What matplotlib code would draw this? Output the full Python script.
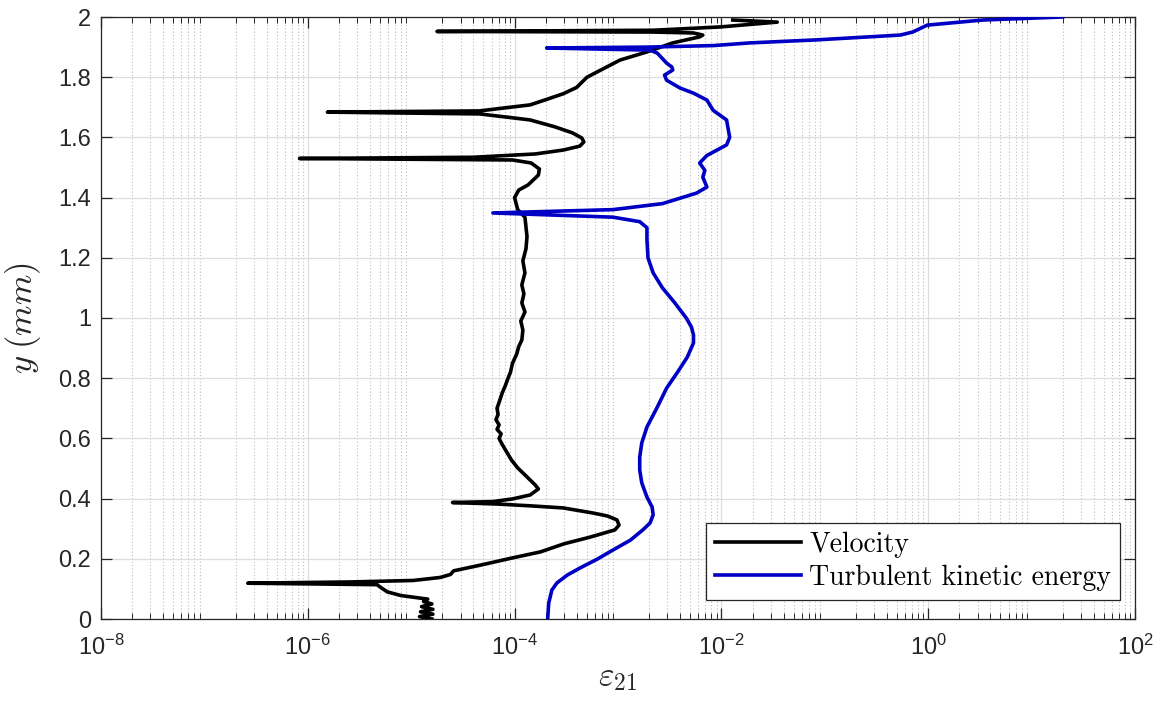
import numpy as np
import matplotlib
matplotlib.use("Agg")
import matplotlib.pyplot as plt
from matplotlib.ticker import LogLocator, NullFormatter

plt.rcParams['font.family'] = ['Liberation Sans', 'DejaVu Sans']
plt.rcParams['mathtext.fontset'] = 'custom'
plt.rcParams['mathtext.rm'] = 'Liberation Sans'
plt.rcParams['mathtext.it'] = 'Liberation Sans:italic'

# Velocity error profile: log10(eps_21) against wall distance y (mm)
vel_log10_eps = [
    -4.80, -4.92, -4.79, -4.91, -4.79, -4.90, -4.80, -4.88, -4.84, -5.10,
    -5.23, -5.30, -5.33, -6.58, -5.60, -4.98, -4.72, -4.62, -4.59, -4.33,
    -4.02, -3.75, -3.52, -3.27, -3.03, -2.99, -3.01, -3.10, -3.24, -3.53,
    -3.85, -4.17, -4.60, -4.21, -4.02, -3.85, -3.77, -3.80, -3.88, -3.97,
    -4.03, -4.07, -4.12, -4.15, -4.13, -4.17, -4.15, -4.18, -4.16, -4.17,
    -4.14, -4.12, -4.09, -4.07, -4.04, -4.02, -3.98, -3.96, -3.93, -3.92,
    -3.94, -3.90, -3.93, -3.91, -3.93, -3.90, -3.92, -3.89, -3.88, -3.90,
    -3.97, -4.00, -3.96, -3.87, -3.77, -3.76, -3.84, -4.02, -6.08, -4.40,
    -3.80, -3.53, -3.37, -3.33, -3.35, -3.44, -3.61, -3.85, -4.09, -4.34,
    -5.81, -4.34, -3.85, -3.71, -3.53, -3.40, -3.30, -2.98, -2.72, -2.47,
    -2.21, -2.18, -2.27, -2.66, -4.75, -2.66, -2.01, -1.46, -1.89,
]
vel_y = [
    0.000, 0.008, 0.016, 0.024, 0.032, 0.041, 0.050, 0.058, 0.066, 0.078,
    0.090, 0.106, 0.114, 0.119, 0.123, 0.128, 0.138, 0.148, 0.160, 0.179,
    0.203, 0.223, 0.250, 0.272, 0.296, 0.312, 0.329, 0.342, 0.352, 0.369,
    0.376, 0.382, 0.387, 0.390, 0.399, 0.412, 0.432, 0.445, 0.472, 0.502,
    0.528, 0.551, 0.580, 0.600, 0.615, 0.630, 0.645, 0.662, 0.680, 0.700,
    0.730, 0.751, 0.775, 0.794, 0.820, 0.850, 0.880, 0.905, 0.927, 0.960,
    0.990, 1.020, 1.050, 1.080, 1.110, 1.150, 1.190, 1.230, 1.270, 1.335,
    1.360, 1.400, 1.425, 1.442, 1.475, 1.495, 1.515, 1.525, 1.530, 1.534,
    1.545, 1.558, 1.571, 1.585, 1.598, 1.615, 1.635, 1.658, 1.668, 1.678,
    1.684, 1.688, 1.708, 1.724, 1.745, 1.766, 1.800, 1.857, 1.884, 1.914,
    1.934, 1.940, 1.947, 1.950, 1.952, 1.956, 1.967, 1.983, 1.990,
]

# Turbulent kinetic energy error profile
tke_log10_eps = [
    -3.68, -3.67, -3.64, -3.59, -3.49, -3.37, -3.20, -3.05, -2.88, -2.76,
    -2.69, -2.66, -2.67, -2.72, -2.77, -2.79, -2.79, -2.77, -2.72, -2.62,
    -2.53, -2.43, -2.33, -2.27, -2.27, -2.29, -2.34, -2.45, -2.57, -2.66,
    -2.71, -2.72, -2.72, -2.79, -3.05, -4.21, -3.05, -2.57, -2.24, -2.14,
    -2.18, -2.16, -2.21, -2.14, -1.95, -1.92, -1.95, -2.08, -2.14, -2.27,
    -2.40, -2.53, -2.55, -2.47, -2.48, -2.53, -2.62, -2.69, -3.69, -2.72,
    -2.08, -1.72, -1.08, -0.27, -0.15, -0.01, 0.53, 1.30,
]
tke_y = [
    0.000, 0.053, 0.096, 0.120, 0.146, 0.169, 0.199, 0.229, 0.262, 0.296,
    0.319, 0.346, 0.372, 0.405, 0.452, 0.495, 0.538, 0.585, 0.638, 0.704,
    0.767, 0.817, 0.870, 0.917, 0.944, 0.970, 1.000, 1.050, 1.100, 1.150,
    1.200, 1.260, 1.300, 1.320, 1.335, 1.349, 1.360, 1.380, 1.415, 1.435,
    1.468, 1.490, 1.515, 1.540, 1.575, 1.600, 1.658, 1.690, 1.724, 1.747,
    1.764, 1.790, 1.807, 1.824, 1.834, 1.847, 1.880, 1.890, 1.897, 1.900,
    1.905, 1.914, 1.924, 1.940, 1.950, 1.973, 1.990, 2.000,
]

x_tick_exponents = [-8, -6, -4, -2, 0, 2]
x_tick_labels = [r'$\mathregular{10^{%d}}$' % e for e in x_tick_exponents]
y_ticks = [0, 0.2, 0.4, 0.6, 0.8, 1, 1.2, 1.4, 1.6, 1.8, 2]
y_tick_labels = ['0', '0.2', '0.4', '0.6', '0.8', '1', '1.2', '1.4', '1.6', '1.8', '2']

series_labels = ['Velocity', 'Turbulent kinetic energy']
series_colors = ['#000000', '#0000c4']

axis_color = '#262626'

fig = plt.figure(figsize=(11.65, 7.09), dpi=100)
ax = fig.add_axes([101 / 1165, 1 - 619 / 709, 1034 / 1165, 602 / 709])

ax.plot(10.0 ** np.array(vel_log10_eps), vel_y, color=series_colors[0], lw=2.6,
        label=series_labels[0], solid_joinstyle='round', zorder=3)
ax.plot(10.0 ** np.array(tke_log10_eps), tke_y, color=series_colors[1], lw=2.6,
        label=series_labels[1], solid_joinstyle='round', zorder=3)

ax.set_xscale('log')
ax.set_xlim(1e-8, 1e2)
ax.set_ylim(0, 2)
ax.set_xticks([10.0 ** e for e in x_tick_exponents], x_tick_labels)
ax.xaxis.set_minor_locator(LogLocator(base=10, subs=np.arange(2, 10), numticks=100))
ax.xaxis.set_minor_formatter(NullFormatter())
ax.set_yticks(y_ticks, y_tick_labels)

ax.grid(True, which='major', axis='both', color='#dedede', lw=0.9, ls='-', zorder=0)
ax.grid(True, which='minor', axis='x', color='#bdbdbd', lw=0.8, ls=(0, (1, 2)), zorder=0)
ax.set_axisbelow(True)

for s in ax.spines.values():
    s.set_color(axis_color)
    s.set_linewidth(0.9)
ax.tick_params(which='both', direction='in', top=True, right=True, colors=axis_color,
               labelsize=17)
ax.tick_params(which='major', length=8, width=0.9)
ax.tick_params(which='minor', length=4.5, width=0.7)
ax.tick_params(axis='x', which='major', pad=11)
ax.tick_params(axis='y', which='major', pad=7)

ax.set_xlabel(r'$\varepsilon_{21}$', fontsize=24, math_fontfamily='cm', color=axis_color)
ax.set_ylabel(r'$y\;(mm)$', fontsize=25, math_fontfamily='cm', color=axis_color)
ax.xaxis.set_label_coords(0.5, -0.072)
ax.yaxis.set_label_coords(-0.056, 0.5)

leg = ax.legend(loc='lower right', bbox_to_anchor=(0.9855, 0.0316), borderaxespad=0,
                prop={'family': 'cmr10', 'size': 20}, fancybox=False, framealpha=1,
                edgecolor=axis_color, handlelength=3.1, handletextpad=0.28,
                borderpad=0.32, labelspacing=0.25)
leg.get_frame().set_linewidth(0.9)

fig.savefig('out.png', dpi=100, facecolor='white')
